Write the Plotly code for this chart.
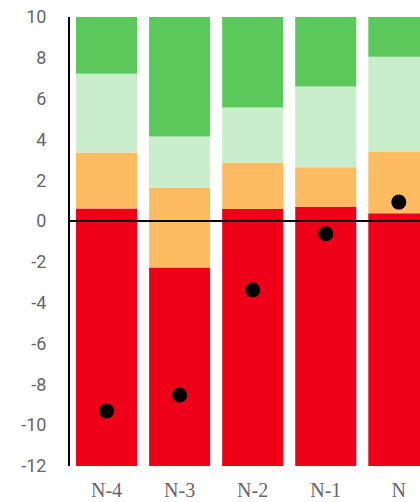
import plotly.graph_objects as go

categories = ["N-4", "N-3", "N-2", "N-1", "N"]
axis_min = -12
axis_max = 10
y_ticks = [-12, -10, -8, -6, -4, -2, 0, 2, 4, 6, 8, 10]
y_tick_labels = ["-12", "-10", "-8", "-6", "-4", "-2", "0", "2", "4", "6", "8", "10"]
red_top = [0.62, -2.27, 0.59, 0.69, 0.39]
orange_top = [3.36, 1.64, 2.87, 2.64, 3.41]
lightgreen_top = [7.22, 4.15, 5.57, 6.60, 8.05]
green_top = [10, 10, 10, 10, 10]
points = [-9.30, -8.52, -3.38, -0.62, 0.93]

colors = ["#EE0019", "#FDBC61", "#CAEDCB", "#5BC85B"]
tops = [red_top, orange_top, lightgreen_top, green_top]
bases = [[axis_min] * len(categories), red_top, orange_top, lightgreen_top]

fig = go.Figure()
for top, base, col in zip(tops, bases, colors):
    fig.add_trace(go.Bar(
        x=categories,
        y=[t - b for t, b in zip(top, base)],
        base=base,
        marker=dict(color=col, line=dict(width=0)),
        showlegend=False,
        hoverinfo="skip",
    ))

fig.add_trace(go.Scatter(
    x=categories, y=points, mode="markers",
    marker=dict(color="black", size=15),
    showlegend=False,
    cliponaxis=False,
))

fig.add_shape(type="line", xref="paper", x0=0, x1=1, yref="y", y0=0, y1=0,
              line=dict(color="black", width=2), layer="above")

fig.update_layout(
    width=420, height=502,
    margin=dict(l=70, r=0, t=17, b=36, autoexpand=False),
    barmode="overlay",
    bargap=0.165,
    plot_bgcolor="white",
    paper_bgcolor="white",
    xaxis=dict(
        range=[-0.5, 4.29],
        showgrid=False, zeroline=False, showline=False,
        tickfont=dict(family="Liberation Serif", size=20, color="#666666"),
        ticks="", ticklabelstandoff=10, automargin=False,
    ),
    yaxis=dict(
        range=[axis_min, axis_max],
        tickmode="array", tickvals=y_ticks, ticktext=y_tick_labels,
        showgrid=False, zeroline=False,
        showline=True, linecolor="black", linewidth=2,
        tickfont=dict(family="Roboto", size=18, color="#666666"),
        ticks="", ticklabelstandoff=18, automargin=False,
    ),
)

fig.write_html("out.html", config={"displayModeBar": False},
               post_script="document.body.style.margin='0';")
